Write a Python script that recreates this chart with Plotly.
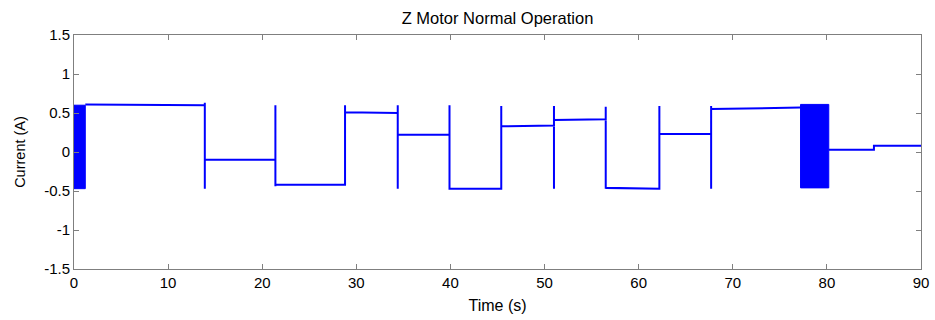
import plotly.graph_objects as go

# Segment boundaries (s) and steady levels (A)
seg_start = [1.2, 13.9, 21.4, 28.8, 34.4, 39.9, 45.4, 51.0, 56.5, 62.2, 67.7, 80.2, 85.0]
seg_end   = [13.9, 21.4, 28.8, 34.4, 39.9, 45.4, 51.0, 56.5, 62.2, 67.7, 77.2, 85.0, 90.0]
seg_level_start = [0.61, -0.10, -0.42, 0.51, 0.22, -0.47, 0.33, 0.41, -0.46, 0.23, 0.55, 0.03, 0.08]
seg_level_end   = [0.60, -0.10, -0.42, 0.50, 0.22, -0.47, 0.34, 0.42, -0.47, 0.23, 0.57, 0.03, 0.08]

# Transient spikes at segment changes (time, high, low)
spike_t  = [13.9, 21.4, 28.8, 34.4, 39.9, 45.4, 51.0, 56.5, 62.2, 67.7, 85.0]
spike_hi = [0.63, 0.60, 0.60, 0.60, 0.60, 0.59, 0.59, 0.58, 0.59, 0.59, 0.08]
spike_lo = [-0.47, -0.44, -0.43, -0.47, -0.47, -0.47, -0.47, -0.47, -0.47, -0.47, 0.03]

# Dense oscillation bursts (start, end, min, max)
burst_start = [0.0, 77.2]
burst_end   = [1.2, 80.2]
burst_min   = [-0.47, -0.46]
burst_max   = [0.60, 0.61]

x_ticks = [0, 10, 20, 30, 40, 50, 60, 70, 80, 90]
y_ticks = [1.5, 1, 0.5, 0, -0.5, -1, -1.5]
y_tick_labels = ["1.5", "1", "0.5", "0", "-0.5", "-1", "-1.5"]

BLUE = "#0000FF"

xs, ys = [], []
for i in range(len(seg_start)):
    xs += [seg_start[i], seg_end[i]]
    ys += [seg_level_start[i], seg_level_end[i]]
    if seg_end[i] in spike_t:
        k = spike_t.index(seg_end[i])
        xs += [spike_t[k], spike_t[k], spike_t[k]]
        ys += [spike_hi[k], spike_lo[k], seg_level_start[i + 1]]
    else:
        xs.append(None)
        ys.append(None)

fig = go.Figure()
for i in range(len(burst_start)):
    fig.add_trace(go.Scatter(
        x=[burst_start[i], burst_end[i], burst_end[i], burst_start[i], burst_start[i]],
        y=[burst_min[i], burst_min[i], burst_max[i], burst_max[i], burst_min[i]],
        mode="lines", fill="toself", fillcolor=BLUE,
        line=dict(color=BLUE, width=1), hoverinfo="skip", showlegend=False))

fig.add_trace(go.Scatter(x=xs, y=ys, mode="lines", connectgaps=False,
                         line=dict(color=BLUE, width=2), showlegend=False))

axis_common = dict(showline=True, linecolor="#7f7f7f", linewidth=1, mirror="ticks",
                   ticks="inside", ticklen=5, tickcolor="#7f7f7f", showgrid=False,
                   zeroline=False, automargin=False, tickfont=dict(size=15, color="#000"))

fig.update_layout(
    width=935, height=320,
    margin=dict(l=74, r=14, t=35, b=51),
    paper_bgcolor="white", plot_bgcolor="white",
    font=dict(family="Liberation Sans, Arial, sans-serif", size=15, color="#000"),
    title=dict(text="Z Motor Normal Operation", x=0.5, xref="paper",
               y=1 - 18 / 320, yref="container", yanchor="middle", font=dict(size=16.5)),
    xaxis=dict(range=[0, 90], tickvals=x_ticks, title=dict(text="Time (s)", standoff=9,
               font=dict(size=16)), **axis_common),
    yaxis=dict(range=[-1.5, 1.5], tickvals=y_ticks, ticktext=y_tick_labels,
               title=dict(text="Current (A)", standoff=15, font=dict(size=14.5)), **axis_common),
)

fig.write_html("out.html", config={"displayModeBar": False},
               post_script="document.body.style.margin='0';document.body.style.overflow='hidden';")
